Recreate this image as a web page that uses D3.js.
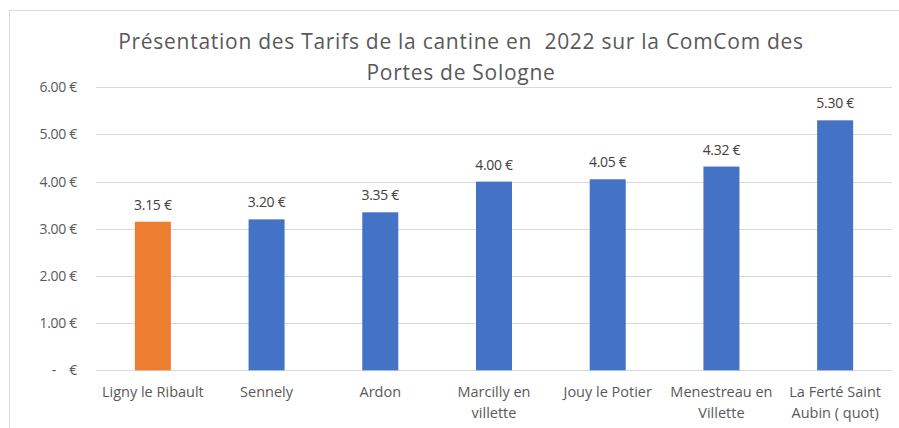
<!DOCTYPE html>
<html><head><meta charset="utf-8">
<script src="https://cdn.jsdelivr.net/npm/d3@7"></script>
<style>
body{margin:0;background:#fff;}
text{font-family:"Open Sans",sans-serif;}
</style></head>
<body><svg id="c" width="899" height="428"></svg>
<script>
(function(){
const categories = [["Ligny le Ribault"],["Sennely"],["Ardon"],["Marcilly en","villette"],["Jouy le Potier"],["Menestreau en","Villette"],["La Ferté Saint","Aubin ( quot)"]];
const values = [3.15,3.20,3.35,4.00,4.05,4.32,5.30];
const highlight = [true,false,false,false,false,false,false];
const yTicks = [0,1,2,3,4,5,6];
const titleLines = ["Présentation des Tarifs de la cantine en  2022 sur la ComCom des","Portes de Sologne"];

const svg = d3.select("#c");
svg.append("rect").attr("x",9.5).attr("y",10.5).attr("width",900).attr("height",430)
  .attr("fill","#fff").attr("stroke","#D9D9D9").attr("stroke-width",1);

const pLeft=96, pRight=892, pTop=87.3, pBottom=370.3;
const x = d3.scaleBand().domain(d3.range(values.length)).range([pLeft,pRight]).padding(0);
const y = d3.scaleLinear().domain([0,6]).range([pBottom,pTop]);

svg.append("g").selectAll("line").data(yTicks).join("line")
  .attr("x1",pLeft).attr("x2",pRight)
  .attr("y1",d=>Math.round(y(d))+0.5).attr("y2",d=>Math.round(y(d))+0.5)
  .attr("stroke","#D9D9D9").attr("stroke-width",1);

const yAxis = d3.axisLeft(y).tickValues(yTicks).tickSize(0).tickPadding(0)
  .tickFormat(d=> d===0 ? "-    €" : d3.format(".2f")(d)+" €");
const ga = svg.append("g").attr("transform",`translate(77,0)`).call(yAxis);
ga.select(".domain").remove();
ga.selectAll("text").attr("fill","#595959").attr("font-size",14)
  .style("white-space","pre").attr("font-family","'Open Sans', sans-serif")
  .attr("letter-spacing",-0.3);

const bw = 36;
svg.append("g").selectAll("rect").data(values).join("rect")
  .attr("x",(d,i)=>x(i)+x.bandwidth()/2-bw/2)
  .attr("width",bw)
  .attr("y",d=>y(d))
  .attr("height",d=>y(0)-y(d))
  .attr("fill",(d,i)=>highlight[i]?"#ED7D31":"#4472C4");

svg.append("g").selectAll("text").data(values).join("text")
  .attr("x",(d,i)=>x(i)+x.bandwidth()/2)
  .attr("y",d=>y(d)-12)
  .attr("text-anchor","middle")
  .attr("fill","#404040").attr("font-size",14).attr("letter-spacing",-0.3)
  .text(d=>d3.format(".2f")(d)+" €");

const cg = svg.append("g").selectAll("text").data(categories).join("text")
  .attr("text-anchor","middle").attr("fill","#595959").attr("font-size",14.5)
  .attr("x",(d,i)=>x(i)+x.bandwidth()/2);
cg.selectAll("tspan").data(d=>d).join("tspan")
  .attr("x",function(){return this.parentNode.getAttribute("x");})
  .attr("y",(d,j)=>397+j*20.5)
  .text(d=>d);

svg.append("g").selectAll("text").data(titleLines).join("text")
  .attr("x",461).attr("y",(d,i)=>49+i*31)
  .attr("text-anchor","middle").attr("fill","#595959").attr("font-size",21)
  .attr("letter-spacing",0.72)
  .style("white-space","pre")
  .text(d=>d);
})();
</script></body></html>
